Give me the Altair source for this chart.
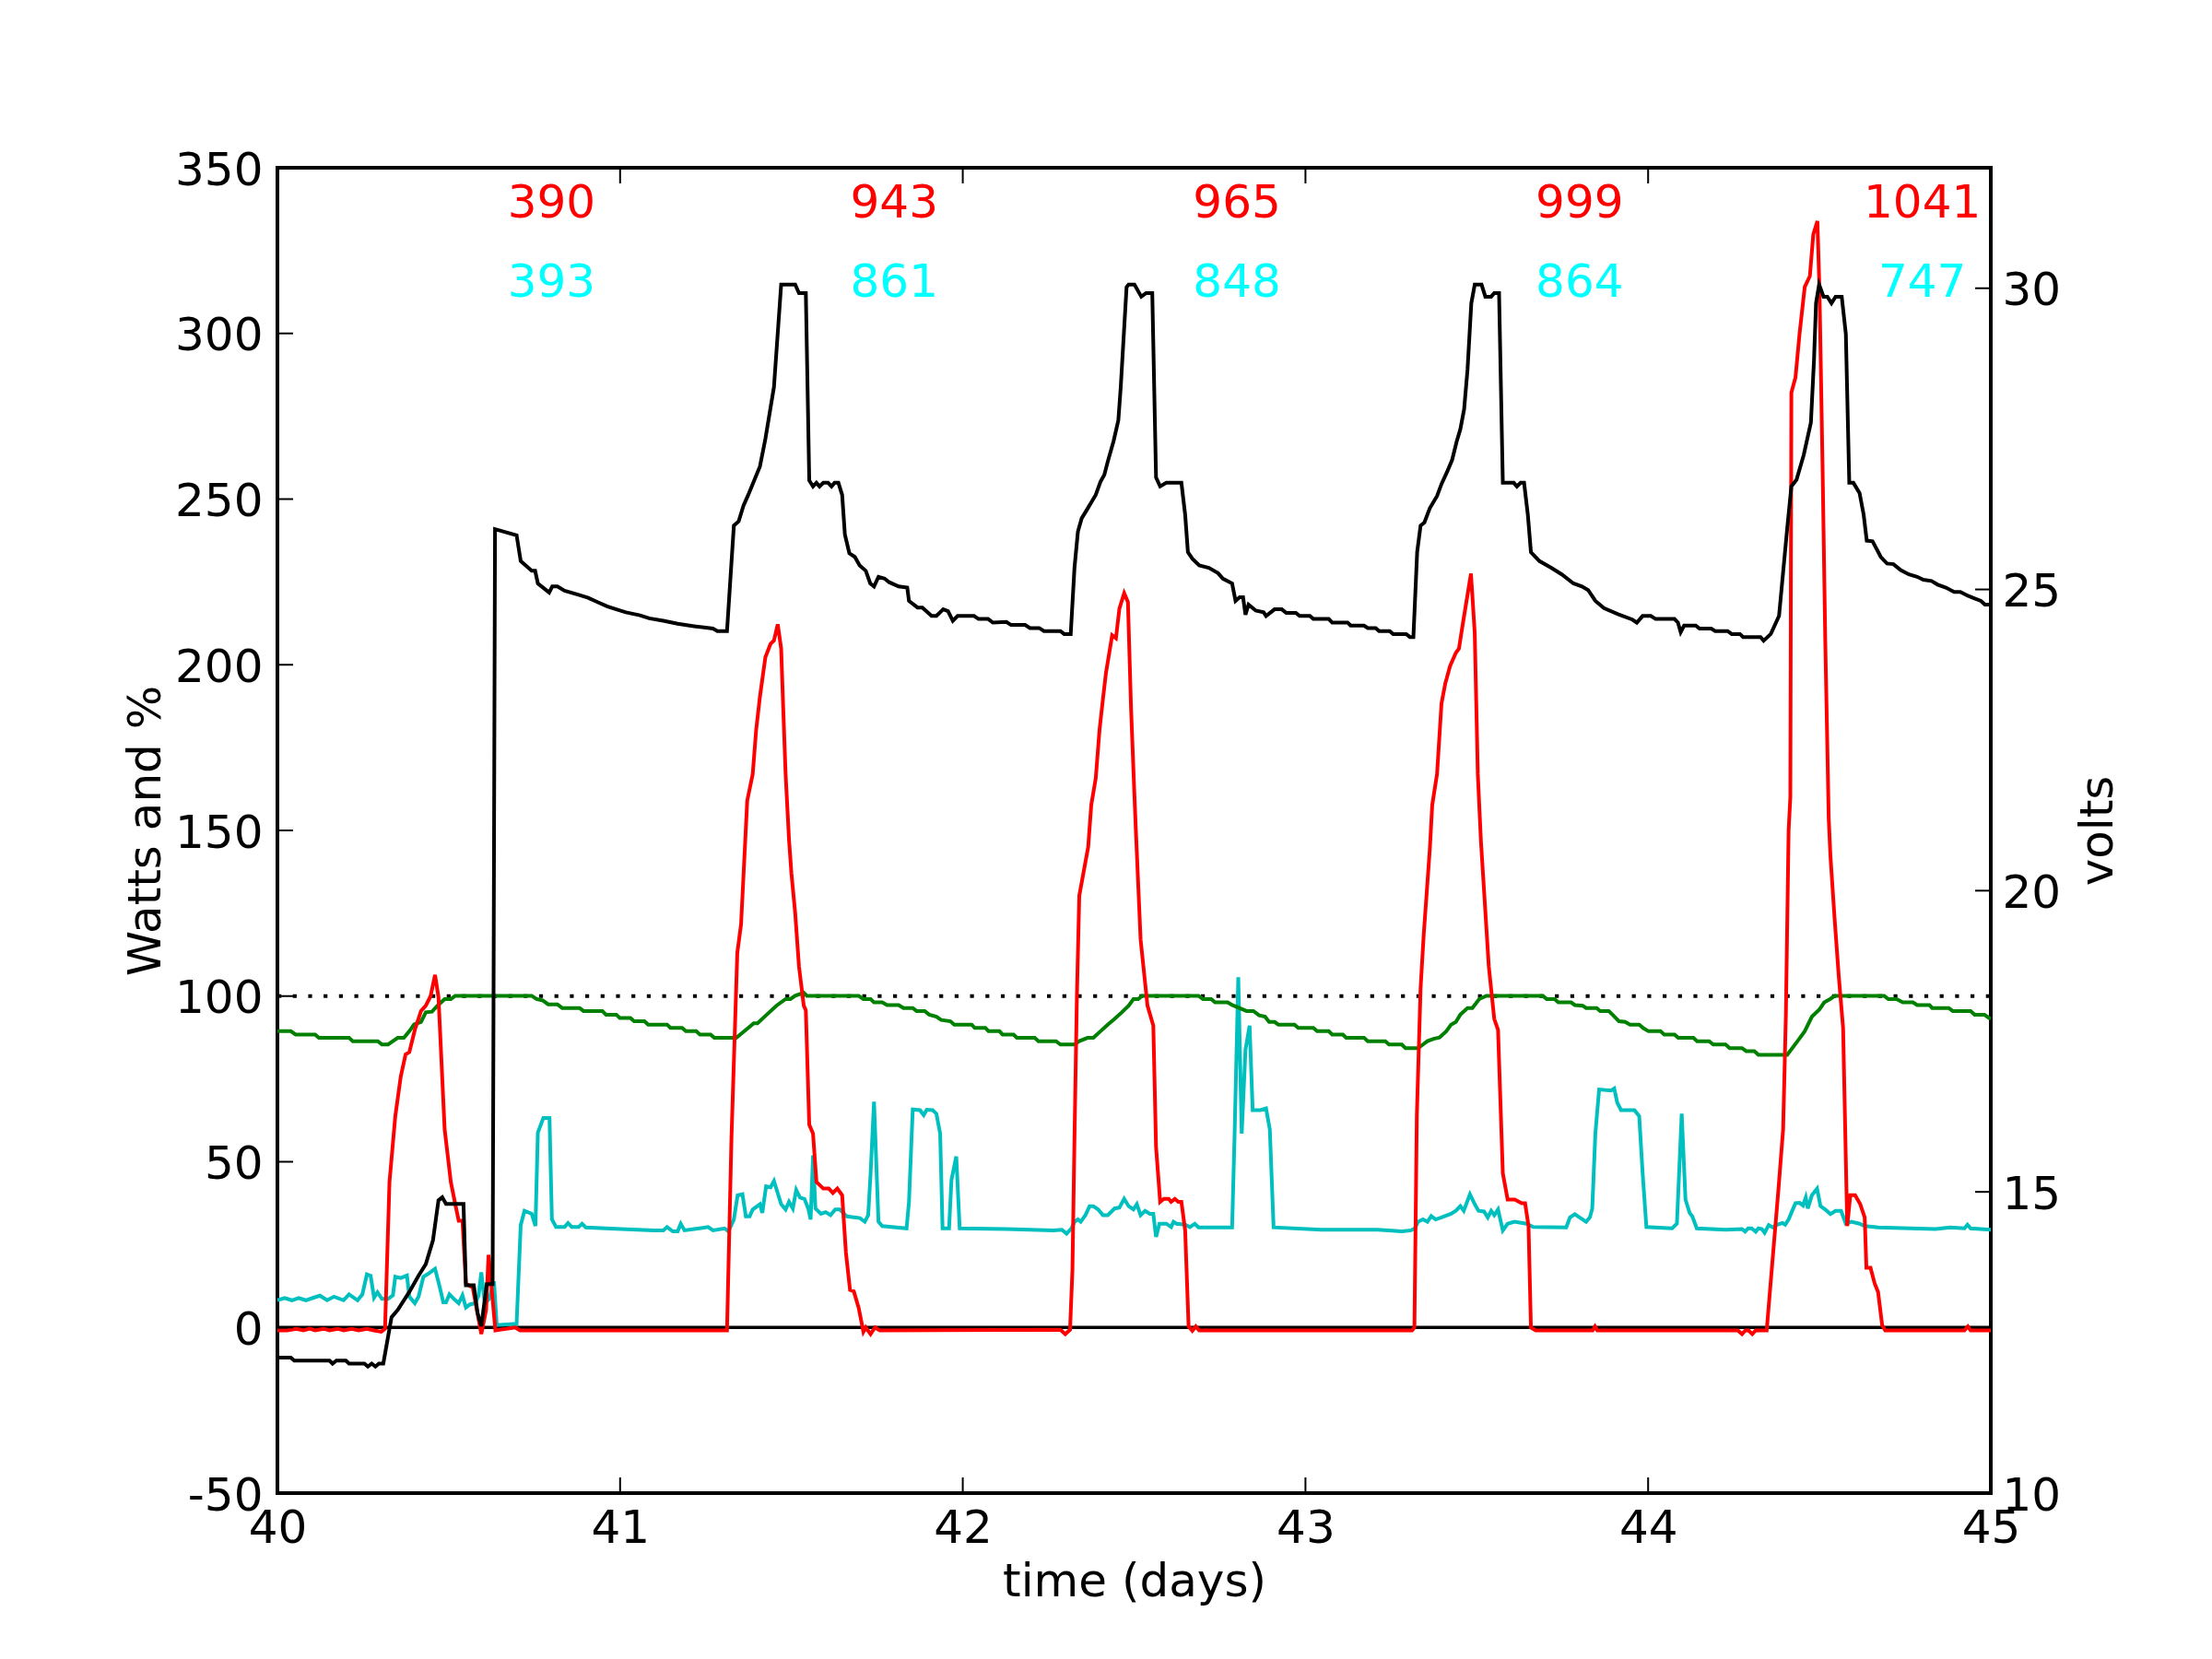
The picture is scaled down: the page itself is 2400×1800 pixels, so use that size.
import altair as alt
import pandas as pd

# ---------------- data ----------------
# battery voltage (right axis), black
BLACK_T = [40.000, 40.039, 40.049, 40.152, 40.161, 40.172, 40.200, 40.209, 40.254, 40.264, 40.275, 40.286, 40.296, 40.309,
           40.333, 40.351, 40.385, 40.412, 40.433, 40.454, 40.470, 40.481, 40.492, 40.543, 40.550, 40.573, 40.584, 40.595,
           40.611, 40.628, 40.635,
           40.698, 40.710, 40.742, 40.752, 40.760, 40.793, 40.802, 40.817, 40.838, 40.879, 40.907, 40.934, 40.962, 40.989,
           41.017, 41.058, 41.085, 41.126, 41.168, 41.216, 41.271, 41.284, 41.312, 41.332, 41.346, 41.360, 41.374, 41.408,
           41.424, 41.449, 41.470, 41.511, 41.522, 41.542, 41.552, 41.563, 41.573, 41.582, 41.593, 41.607, 41.617, 41.626,
           41.637, 41.648, 41.656, 41.669, 41.685, 41.699, 41.717, 41.730, 41.741, 41.754, 41.772, 41.785, 41.813, 41.838,
           41.843, 41.868, 41.882, 41.909, 41.923, 41.943, 41.957, 41.971, 41.985, 42.033, 42.046, 42.074, 42.088, 42.127,
           42.141, 42.182, 42.196, 42.223, 42.237, 42.285, 42.296, 42.315, 42.326, 42.336, 42.347, 42.361, 42.388, 42.402,
           42.413, 42.423, 42.440, 42.454, 42.461, 42.478, 42.484, 42.501, 42.521, 42.535, 42.553, 42.564, 42.576, 42.594,
           42.638, 42.649, 42.657, 42.670, 42.690, 42.718, 42.745, 42.759, 42.786, 42.796, 42.808, 42.818, 42.825, 42.834,
           42.855, 42.878, 42.885, 42.910, 42.931, 42.944, 42.972, 42.983, 43.013, 43.023, 43.068, 43.078, 43.123, 43.132,
           43.171, 43.182, 43.205, 43.215, 43.246, 43.256, 43.294, 43.305, 43.315, 43.326, 43.336, 43.347, 43.363, 43.384,
           43.397, 43.414, 43.428, 43.441, 43.452, 43.463, 43.473, 43.484, 43.494, 43.514, 43.525, 43.542, 43.551, 43.565,
           43.576, 43.608, 43.617, 43.628, 43.638, 43.649, 43.658, 43.683, 43.717, 43.748, 43.782, 43.807, 43.825, 43.846,
           43.871, 43.912, 43.954, 43.967, 43.984, 44.008, 44.022, 44.077, 44.087, 44.095, 44.105, 44.139, 44.150, 44.184,
           44.196, 44.232, 44.244, 44.268, 44.277, 44.328, 44.337, 44.358, 44.382, 44.394, 44.406, 44.418, 44.433, 44.454,
           44.475, 44.484, 44.490, 44.499, 44.512, 44.523, 44.535, 44.547, 44.565, 44.577, 44.587, 44.599, 44.617, 44.629,
           44.638, 44.655, 44.665, 44.679, 44.697, 44.716, 44.737, 44.761, 44.785, 44.803, 44.827, 44.845, 44.869, 44.893,
           44.911, 44.935, 44.953, 44.971, 44.983, 45.000]
BLACK_V = [12.25, 12.25, 12.20, 12.20, 12.15, 12.20, 12.20, 12.15, 12.15, 12.10, 12.15, 12.10, 12.15, 12.15,
           12.92, 13.04, 13.34, 13.61, 13.80, 14.20, 14.86, 14.91, 14.80, 14.80, 13.45, 13.45, 12.99, 12.77,
           13.47, 13.47, 26.00,
           25.90, 25.47, 25.31, 25.31, 25.10, 24.95, 25.05, 25.05, 24.98, 24.91, 24.86, 24.79, 24.72, 24.67,
           24.62, 24.57, 24.52, 24.48, 24.43, 24.39, 24.35, 24.31, 24.31, 26.06, 26.13, 26.39, 26.57, 27.04,
           27.50, 28.36, 30.06, 30.06, 29.92, 29.92, 26.81, 26.71, 26.77, 26.71, 26.77, 26.77, 26.71, 26.77,
           26.77, 26.57, 25.91, 25.60, 25.54, 25.40, 25.31, 25.10, 25.05, 25.21, 25.18, 25.12, 25.05, 25.03,
           24.81, 24.70, 24.70, 24.56, 24.56, 24.67, 24.64, 24.48, 24.56, 24.56, 24.51, 24.51, 24.45, 24.46,
           24.41, 24.41, 24.36, 24.36, 24.31, 24.31, 24.26, 24.26, 25.36, 25.96, 26.18, 26.31, 26.57, 26.79,
           26.90, 27.12, 27.46, 27.81, 28.36, 30.02, 30.06, 30.06, 29.86, 29.92, 29.92, 26.86, 26.71, 26.77,
           26.77, 26.24, 25.62, 25.51, 25.40, 25.36, 25.27, 25.18, 25.10, 24.81, 24.87, 24.87, 24.58, 24.75,
           24.65, 24.62, 24.56, 24.67, 24.67, 24.61, 24.61, 24.56, 24.56, 24.51, 24.51, 24.45, 24.45, 24.40,
           24.40, 24.36, 24.36, 24.31, 24.31, 24.26, 24.26, 24.21, 24.21, 25.62, 26.06, 26.11, 26.35, 26.55,
           26.75, 26.96, 27.15, 27.45, 27.66, 27.99, 28.65, 29.75, 30.06, 30.06, 29.86, 29.86, 29.92, 29.92,
           26.77, 26.77, 26.71, 26.77, 26.77, 26.24, 25.62, 25.47, 25.36, 25.25, 25.10, 25.05, 24.99, 24.81,
           24.69, 24.59, 24.50, 24.45, 24.56, 24.56, 24.51, 24.51, 24.45, 24.29, 24.40, 24.40, 24.35, 24.35,
           24.31, 24.31, 24.26, 24.26, 24.21, 24.21, 24.15, 24.26, 24.56, 25.29, 26.02, 26.71, 26.82, 27.23,
           27.77, 28.80, 29.75, 30.06, 29.86, 29.86, 29.75, 29.86, 29.86, 29.24, 26.77, 26.77, 26.60, 26.24,
           25.81, 25.80, 25.69, 25.54, 25.43, 25.42, 25.32, 25.25, 25.21, 25.16, 25.14, 25.08, 25.03, 24.96,
           24.96, 24.89, 24.85, 24.81, 24.75, 24.75]

# solar watts, red
RED_T = [40.000, 40.028, 40.055, 40.076, 40.094, 40.110, 40.135, 40.152, 40.176, 40.193, 40.217, 40.237, 40.261, 40.282,
         40.303, 40.314, 40.327, 40.344, 40.360, 40.374, 40.385, 40.401, 40.419, 40.433, 40.447, 40.460, 40.470, 40.488,
         40.506, 40.519, 40.529, 40.540, 40.550, 40.570, 40.595, 40.609, 40.616, 40.625, 40.636, 40.694, 40.708, 41.312,
         41.325, 41.342, 41.353, 41.371, 41.387, 41.397, 41.408, 41.424, 41.439, 41.449, 41.460, 41.470, 41.476, 41.483,
         41.493, 41.500, 41.511, 41.522, 41.536, 41.542, 41.552, 41.563, 41.573, 41.593, 41.609, 41.621, 41.634, 41.648,
         41.659, 41.671, 41.682, 41.696, 41.710, 41.717, 41.731, 41.744, 41.758, 42.285, 42.299, 42.313, 42.320, 42.326,
         42.333, 42.340, 42.366, 42.375, 42.388, 42.399, 42.409, 42.418, 42.436, 42.447, 42.457, 42.471, 42.482, 42.491,
         42.501, 42.505, 42.519, 42.539, 42.556, 42.564, 42.576, 42.587, 42.601, 42.608, 42.619, 42.629, 42.638, 42.649,
         42.659, 42.670, 42.680, 42.690, 43.311, 43.318, 43.325, 43.336, 43.345, 43.363, 43.370, 43.384, 43.397, 43.408,
         43.422, 43.439, 43.448, 43.459, 43.483, 43.494, 43.503, 43.512, 43.535, 43.551, 43.562, 43.576, 43.590, 43.611,
         43.631, 43.641, 43.651, 43.658, 43.672, 43.838, 43.845, 43.852, 44.262, 44.274, 44.284, 44.293, 44.304, 44.314,
         44.346, 44.358, 44.380, 44.394, 44.402, 44.410, 44.415, 44.418, 44.430, 44.442, 44.457, 44.472, 44.482, 44.494,
         44.500, 44.509, 44.517, 44.527, 44.532, 44.544, 44.556, 44.569, 44.581, 44.590, 44.604, 44.619, 44.632, 44.637,
         44.649, 44.661, 44.671, 44.683, 44.692, 44.923, 44.933, 44.941, 45.000]
RED_W = [-0.9, -0.9, -0.4, -0.9, -0.4, -0.9, -0.4, -0.9, -0.4, -0.9, -0.4, -0.9, -0.4, -0.9,
         -1.3, -0.4, 43.9, 63.8, 75.8, 82.4, 83.1, 89.8, 95.5, 97.1, 100.0, 106.4, 99.7, 59.8,
         43.9, 37.2, 32.2, 32.2, 13.3, 12.0, -2.0, 5.3, 21.9, 12.0, -0.9, 0.0, -0.9, -0.9,
         57.2, 113.0, 121.7, 159.0, 167.0, 180.3, 190.3, 202.3, 206.3, 207.3, 212.2, 204.9, 187.0, 167.0,
         147.1, 137.0, 125.0, 109.0, 97.1, 95.7, 61.2, 58.5, 43.9, 41.9, 41.9, 40.6, 41.9, 39.9,
         22.6, 11.3, 10.9, 6.0, -1.3, 0.0, -2.0, 0.0, -0.9, -0.7, -2.0, -0.7, 17.3, 57.2,
         99.7, 130.3, 145.0, 157.7, 165.7, 180.3, 189.6, 197.6, 208.9, 208.0, 216.9, 221.6, 218.9, 187.0,
         160.4, 150.3, 117.0, 97.1, 91.1, 54.5, 37.9, 38.8, 38.8, 37.9, 38.8, 37.9, 37.9, 29.3,
         0.3, -1.0, 0.3, -0.9, -0.9, 0.0, 63.8, 102.4, 118.3, 144.5, 157.7, 167.0, 188.3, 194.3,
         199.6, 203.6, 204.9, 212.2, 227.5, 209.6, 167.0, 147.0, 109.0, 93.1, 89.8, 46.5, 38.6, 38.6,
         37.5, 37.5, 30.6, 0.0, -0.9, -0.9, 0.3, -0.9, -0.9, -2.0, -0.9, -0.9, -2.0, -0.9,
         -0.9, 14.0, 41.3, 59.8, 94.4, 150.0, 160.0, 282.1, 286.7, 300.0, 314.0, 317.3, 329.9, 333.9,
         313.3, 260.1, 206.9, 153.7, 142.3, 123.7, 106.4, 90.4, 30.6, 39.9, 39.9, 37.2, 33.2, 18.0,
         18.0, 13.3, 10.7, 0.7, -0.9, -0.9, 0.3, -0.9, -0.9]

# load watts, cyan
CYAN_T = [40.000, 40.021, 40.042, 40.062, 40.083, 40.103, 40.124, 40.145, 40.165, 40.193, 40.209, 40.234, 40.248, 40.261,
          40.272, 40.282, 40.292, 40.305, 40.323, 40.337, 40.344, 40.360, 40.378, 40.385, 40.401, 40.412, 40.426, 40.440,
          40.460, 40.474, 40.484, 40.492, 40.502, 40.515, 40.529, 40.540, 40.550, 40.561, 40.577, 40.587, 40.595, 40.605,
          40.618, 40.632, 40.640, 40.698, 40.710, 40.721, 40.742, 40.753, 40.760, 40.776, 40.794, 40.801, 40.813, 40.838,
          40.848, 40.859, 40.879, 40.889, 40.900, 41.003, 41.099, 41.126, 41.137, 41.154, 41.168, 41.177, 41.188, 41.216,
          41.257, 41.271, 41.305, 41.316, 41.332, 41.343, 41.357, 41.367, 41.378, 41.387, 41.408, 41.415, 41.426, 41.439,
          41.449, 41.470, 41.483, 41.493, 41.504, 41.514, 41.525, 41.538, 41.549, 41.556, 41.563, 41.570, 41.586, 41.600,
          41.614, 41.628, 41.641, 41.662, 41.700, 41.714, 41.724, 41.731, 41.741, 41.754, 41.765, 41.836, 41.843, 41.854,
          41.875, 41.886, 41.895, 41.912, 41.923, 41.934, 41.941, 41.960, 41.967, 41.981, 41.991, 42.127, 42.265, 42.289,
          42.303, 42.317, 42.326, 42.336, 42.344, 42.358, 42.370, 42.381, 42.395, 42.409, 42.423, 42.443, 42.457, 42.471,
          42.484, 42.498, 42.508, 42.519, 42.532, 42.546, 42.556, 42.564, 42.574, 42.594, 42.608, 42.615, 42.624, 42.649,
          42.663, 42.677, 42.688, 42.786, 42.793, 42.804, 42.814, 42.825, 42.837, 42.846, 42.869, 42.885, 42.896, 42.907,
          43.047, 43.212, 43.281, 43.308, 43.319, 43.329, 43.343, 43.356, 43.367, 43.380, 43.397, 43.425, 43.439, 43.452,
          43.462, 43.480, 43.494, 43.505, 43.521, 43.532, 43.542, 43.551, 43.562, 43.576, 43.590, 43.610, 43.645, 43.665,
          43.761, 43.772, 43.786, 43.803, 43.819, 43.830, 43.837, 43.846, 43.857, 43.892, 43.901, 43.910, 43.921, 43.960,
          43.974, 43.984, 43.995, 44.070, 44.084, 44.098, 44.109, 44.121, 44.129, 44.142, 44.226, 44.274, 44.283, 44.292,
          44.302, 44.314, 44.322, 44.332, 44.340, 44.352, 44.364, 44.376, 44.392, 44.400, 44.410, 44.418, 44.430, 44.442,
          44.452, 44.460, 44.466, 44.478, 44.493, 44.503, 44.517, 44.532, 44.547, 44.563, 44.577, 44.593, 44.617, 44.632,
          44.671, 44.767, 44.839, 44.881, 44.923, 44.932, 44.941, 45.000]
CYAN_W = [8.2, 8.9, 8.2, 8.9, 8.2, 8.9, 9.6, 8.2, 9.3, 8.2, 10.0, 8.2, 10.0, 16.0,
          15.6, 9.0, 10.6, 8.6, 8.6, 9.7, 15.3, 14.9, 15.7, 9.3, 7.3, 9.3, 15.3, 16.2,
          17.7, 12.0, 7.6, 7.6, 10.0, 8.6, 7.3, 9.7, 6.0, 6.9, 7.3, 9.6, 16.6, 7.3,
          8.6, 13.9, 0.7, 1.1, 30.9, 35.2, 34.3, 30.6, 58.8, 63.2, 63.2, 32.6, 30.3, 30.3,
          31.5, 30.3, 30.3, 31.3, 30.2, 29.7, 29.3, 29.3, 30.3, 29.0, 29.0, 31.3, 29.3, 29.7,
          30.3, 29.3, 29.9, 29.0, 32.6, 39.9, 40.2, 33.5, 33.5, 35.6, 37.2, 34.6, 42.6, 42.3,
          44.2, 37.2, 35.6, 37.9, 35.9, 41.5, 39.2, 38.8, 35.9, 32.6, 51.9, 35.9, 34.3, 34.8,
          33.9, 35.6, 35.6, 33.5, 33.0, 31.9, 33.9, 46.5, 68.1, 31.9, 30.6, 29.9, 37.9, 65.8,
          65.6, 64.1, 65.7, 65.6, 64.5, 58.5, 29.9, 29.9, 44.5, 51.6, 29.9, 29.7, 29.3, 29.5,
          28.3, 29.9, 31.9, 32.6, 31.9, 33.9, 36.6, 36.6, 35.6, 33.9, 33.9, 35.9, 36.2, 38.8,
          36.6, 35.6, 37.2, 33.9, 35.2, 34.3, 34.3, 27.3, 31.3, 31.3, 30.3, 31.9, 31.3, 31.0,
          30.3, 31.3, 30.2, 30.2, 57.2, 105.7, 58.5, 83.8, 91.1, 65.6, 65.6, 66.1, 59.8, 30.2,
          29.5, 29.5, 29.0, 29.3, 29.9, 31.9, 32.6, 31.9, 33.6, 32.6, 33.2, 34.3, 35.2, 36.6,
          35.2, 40.2, 37.2, 35.2, 35.0, 33.2, 35.2, 33.9, 35.6, 29.3, 31.3, 31.9, 31.3, 30.3,
          30.2, 33.2, 34.2, 33.0, 31.9, 33.2, 35.9, 58.5, 71.8, 71.5, 72.1, 67.8, 65.6, 65.6,
          63.8, 46.5, 30.3, 29.9, 31.3, 64.5, 38.6, 34.6, 33.5, 29.9, 29.5, 29.7, 28.9, 29.9,
          29.9, 28.9, 29.9, 29.7, 28.6, 30.9, 30.2, 31.0, 31.5, 31.0, 32.6, 34.6, 37.5, 37.6,
          36.8, 39.2, 35.9, 39.9, 41.9, 36.6, 35.6, 34.2, 35.2, 35.2, 31.3, 31.9, 31.3, 30.6,
          30.2, 29.9, 29.7, 30.2, 29.9, 31.0, 29.9, 29.5]

# state of charge %, green
GREEN_T = [40.000, 40.039, 40.053, 40.110, 40.121, 40.209, 40.220, 40.293, 40.305, 40.323, 40.337, 40.351, 40.369, 40.385,
           40.399, 40.419, 40.433, 40.451, 40.467, 40.488, 40.506, 40.519, 40.742, 40.756, 40.774, 40.790, 40.817, 40.831,
           40.882, 40.893, 40.948, 40.959, 40.989, 40.999, 41.030, 41.041, 41.071, 41.082, 41.137, 41.147, 41.181, 41.192,
           41.222, 41.233, 41.264, 41.275, 41.339, 41.374, 41.390, 41.401, 41.428, 41.456, 41.483, 41.497, 41.511, 41.536,
           41.545, 41.696, 41.710, 41.731, 41.741, 41.765, 41.779, 41.813, 41.827, 41.854, 41.865, 41.889, 41.902, 41.923,
           41.937, 41.964, 41.975, 42.026, 42.035, 42.066, 42.075, 42.107, 42.116, 42.148, 42.158, 42.210, 42.221, 42.272,
           42.285, 42.326, 42.340, 42.364, 42.381, 42.402, 42.423, 42.443, 42.464, 42.484, 42.498, 42.512, 42.523, 42.688,
           42.701, 42.725, 42.736, 42.773, 42.786, 42.807, 42.828, 42.848, 42.865, 42.882, 42.894, 42.910, 42.921, 42.968,
           42.979, 43.023, 43.034, 43.068, 43.078, 43.109, 43.119, 43.171, 43.182, 43.233, 43.244, 43.281, 43.292, 43.329,
           43.343, 43.356, 43.374, 43.391, 43.411, 43.425, 43.439, 43.452, 43.473, 43.487, 43.507, 43.528, 43.693, 43.704,
           43.727, 43.738, 43.775, 43.786, 43.809, 43.819, 43.850, 43.860, 43.885, 43.896, 43.915, 43.933, 43.947, 43.974,
           43.985, 44.001, 44.036, 44.047, 44.077, 44.088, 44.132, 44.143, 44.178, 44.190, 44.226, 44.238, 44.274, 44.286,
           44.310, 44.322, 44.406, 44.436, 44.457, 44.478, 44.500, 44.514, 44.531, 44.545, 44.689, 44.701, 44.725, 44.743,
           44.773, 44.785, 44.821, 44.829, 44.877, 44.889, 44.941, 44.953, 44.981, 44.995, 45.000]
GREEN_P = [89.4, 89.4, 88.4, 88.4, 87.4, 87.4, 86.4, 86.4, 85.4, 85.4, 86.4, 87.4, 87.4, 89.4,
           91.5, 92.2, 95.1, 95.3, 97.1, 99.1, 99.1, 100.1, 100.1, 99.1, 98.7, 97.5, 97.5, 96.4,
           96.4, 95.5, 95.5, 94.4, 94.4, 93.4, 93.4, 92.4, 92.4, 91.4, 91.4, 90.4, 90.4, 89.4,
           89.4, 88.4, 88.4, 87.4, 87.4, 90.4, 91.8, 91.8, 94.4, 97.1, 99.1, 99.1, 100.1, 101.0,
           100.1, 100.1, 99.1, 99.1, 98.1, 98.1, 97.3, 97.3, 96.4, 96.4, 95.5, 95.5, 94.4, 93.8,
           92.8, 92.4, 91.4, 91.4, 90.4, 90.4, 89.4, 89.4, 88.4, 88.4, 87.4, 87.4, 86.4, 86.4,
           85.4, 85.4, 86.4, 87.4, 87.4, 89.4, 91.4, 93.1, 95.1, 97.1, 99.1, 99.1, 100.1, 100.1,
           99.1, 99.1, 98.1, 98.1, 97.3, 96.4, 95.5, 95.5, 94.2, 93.8, 92.2, 92.2, 91.4, 91.4,
           90.4, 90.4, 89.4, 89.4, 88.4, 88.4, 87.4, 87.4, 86.4, 86.4, 85.4, 85.4, 84.3, 84.3,
           85.4, 86.4, 87.1, 87.5, 89.4, 91.4, 92.2, 94.4, 96.4, 96.4, 99.1, 100.1, 100.1, 99.1,
           99.1, 98.1, 98.1, 97.3, 97.1, 96.4, 96.4, 95.5, 95.5, 94.4, 92.4, 92.2, 91.4, 91.4,
           90.4, 89.4, 89.4, 88.4, 88.4, 87.4, 87.4, 86.4, 86.4, 85.4, 85.4, 84.3, 84.3, 83.4,
           83.4, 82.3, 82.3, 86.4, 89.4, 93.8, 96.0, 98.1, 99.1, 100.1, 100.1, 99.1, 99.1, 98.1,
           98.1, 97.3, 97.3, 96.4, 96.4, 95.5, 95.5, 94.4, 94.4, 93.4, 93.1]

# reference lines
REF_T = [40, 45]
REF_FULL = [100, 100]
REF_ZERO = [0, 0]

# daily totals printed at the top
ANNOT_T = [40.8, 41.8, 42.8, 43.8, 44.8]
ANNOT_RED = ["390", "943", "965", "999", "1041"]
ANNOT_CYAN = ["393", "861", "848", "864", "747"]
ANNOT_RED_Y = 335
ANNOT_CYAN_Y = 311

# axis ticks
X_LABELS = [40, 41, 42, 43, 44, 45]
X_TICKS = [41, 42, 43, 44]
LEFT_TICKS = [-50, 0, 50, 100, 150, 200, 250, 300, 350]
RIGHT_TICKS = [10, 15, 20, 25, 30]

# ---------------- chart ----------------
W, H = 1859, 1438
FONT = "DejaVu Sans"
FS = 50
TICK_LEN = 17

XS = alt.Scale(domain=[40, 45], nice=False, zero=False)
YL = alt.Scale(domain=[-50, 350], nice=False, zero=False)
YR = alt.Scale(domain=[10, 32], nice=False, zero=False)

common = dict(grid=False, domain=False, ticks=False, tickSize=0,
              labelFont=FONT, labelFontSize=FS, labelColor="black",
              titleFont=FONT, titleFontSize=FS, titleFontWeight="normal", titleColor="black",
              labelOverlap=False, labelFlush=False, labelBound=False)

X_AXIS = alt.Axis(values=X_LABELS, format="d", title="time (days)", labelPadding=13.5,
                  titleX=W / 2, titleY=111.7, titleBaseline="alphabetic", titleAlign="center",
                  titleAngle=0, orient="bottom", **common)
YL_AXIS = alt.Axis(values=LEFT_TICKS, title="Watts and %", orient="left", labelPadding=16,
                   labelBaseline="alphabetic", labelOffset=18,
                   labelExpr="datum.value < 0 ? '-' + (-datum.value) : '' + datum.value",
                   titleAngle=270, titleX=-128, titleY=H / 2, titleBaseline="alphabetic",
                   titleAlign="center", **common)
YR_AXIS = alt.Axis(values=RIGHT_TICKS, format="d", title="volts", orient="right", labelPadding=12,
                   labelBaseline="alphabetic", labelOffset=18,
                   titleAngle=270, titleX=131.7, titleY=H / 2, titleBaseline="alphabetic",
                   titleAlign="center", **common)

LW = 4


def xenc():
    return alt.X("t:Q", scale=XS, axis=X_AXIS)


def yl(field):
    return alt.Y(f"{field}:Q", scale=YL, axis=YL_AXIS)


def yr(field):
    return alt.Y(f"{field}:Q", scale=YR, axis=YR_AXIS)


ref_df = pd.DataFrame({"t": REF_T, "full": REF_FULL, "zero": REF_ZERO})
zero_line = alt.Chart(ref_df).mark_line(color="black", strokeWidth=3.5).encode(x=xenc(), y=yl("zero"))
full_line = alt.Chart(ref_df).mark_line(color="black", strokeWidth=4, strokeDash=[4.2, 12.5]).encode(
    x=xenc(), y=yl("full"))

cyan = alt.Chart(pd.DataFrame({"t": CYAN_T, "w": CYAN_W})).mark_line(
    color="#00BFBF", strokeWidth=LW).encode(x=xenc(), y=yl("w"))
green = alt.Chart(pd.DataFrame({"t": GREEN_T, "p": GREEN_P})).mark_line(
    color="#008000", strokeWidth=LW).encode(x=xenc(), y=yl("p"))
red = alt.Chart(pd.DataFrame({"t": RED_T, "w": RED_W})).mark_line(
    color="#FF0000", strokeWidth=LW).encode(x=xenc(), y=yl("w"))

ann_red = alt.Chart(pd.DataFrame({"t": ANNOT_T, "y": [ANNOT_RED_Y] * len(ANNOT_T), "label": ANNOT_RED})).mark_text(
    font=FONT, fontSize=FS, color="#FF0000", align="center", baseline="alphabetic").encode(
    x=xenc(), y=yl("y"), text="label:N")
ann_cyan = alt.Chart(pd.DataFrame({"t": ANNOT_T, "y": [ANNOT_CYAN_Y] * len(ANNOT_T), "label": ANNOT_CYAN})).mark_text(
    font=FONT, fontSize=FS, color="#00FFFF", align="center", baseline="alphabetic").encode(
    x=xenc(), y=yl("y"), text="label:N")

xt_df = pd.DataFrame({"t": X_TICKS})
xticks_bottom = alt.Chart(xt_df).mark_rule(color="black", strokeWidth=2).encode(
    x=xenc(), y=alt.value(H), y2=alt.value(H - TICK_LEN))
xticks_top = alt.Chart(xt_df).mark_rule(color="black", strokeWidth=2).encode(
    x=xenc(), y=alt.value(0), y2=alt.value(TICK_LEN))
lticks = alt.Chart(pd.DataFrame({"yv": LEFT_TICKS})).mark_rule(color="black", strokeWidth=2).encode(
    y=yl("yv"), x=alt.value(0), x2=alt.value(TICK_LEN))

left_group = alt.layer(zero_line, full_line, cyan, green, red, ann_red, ann_cyan,
                       xticks_bottom, xticks_top, lticks)

black = alt.Chart(pd.DataFrame({"t": BLACK_T, "v": BLACK_V})).mark_line(
    color="black", strokeWidth=LW).encode(x=xenc(), y=yr("v"))
rticks = alt.Chart(pd.DataFrame({"yv": RIGHT_TICKS})).mark_rule(color="black", strokeWidth=2).encode(
    y=yr("yv"), x=alt.value(W), x2=alt.value(W - TICK_LEN))

right_group = alt.layer(black, rticks)

chart = alt.layer(left_group, right_group).resolve_scale(y="independent").properties(
    width=W, height=H,
    autosize=alt.AutoSizeParams(type="none"),
    padding={"left": 293, "top": 174, "right": 230, "bottom": 170},
    background="white",
).configure_view(stroke="black", strokeWidth=4)

chart.save("out.html", embed_options={"renderer": "svg", "actions": False})
